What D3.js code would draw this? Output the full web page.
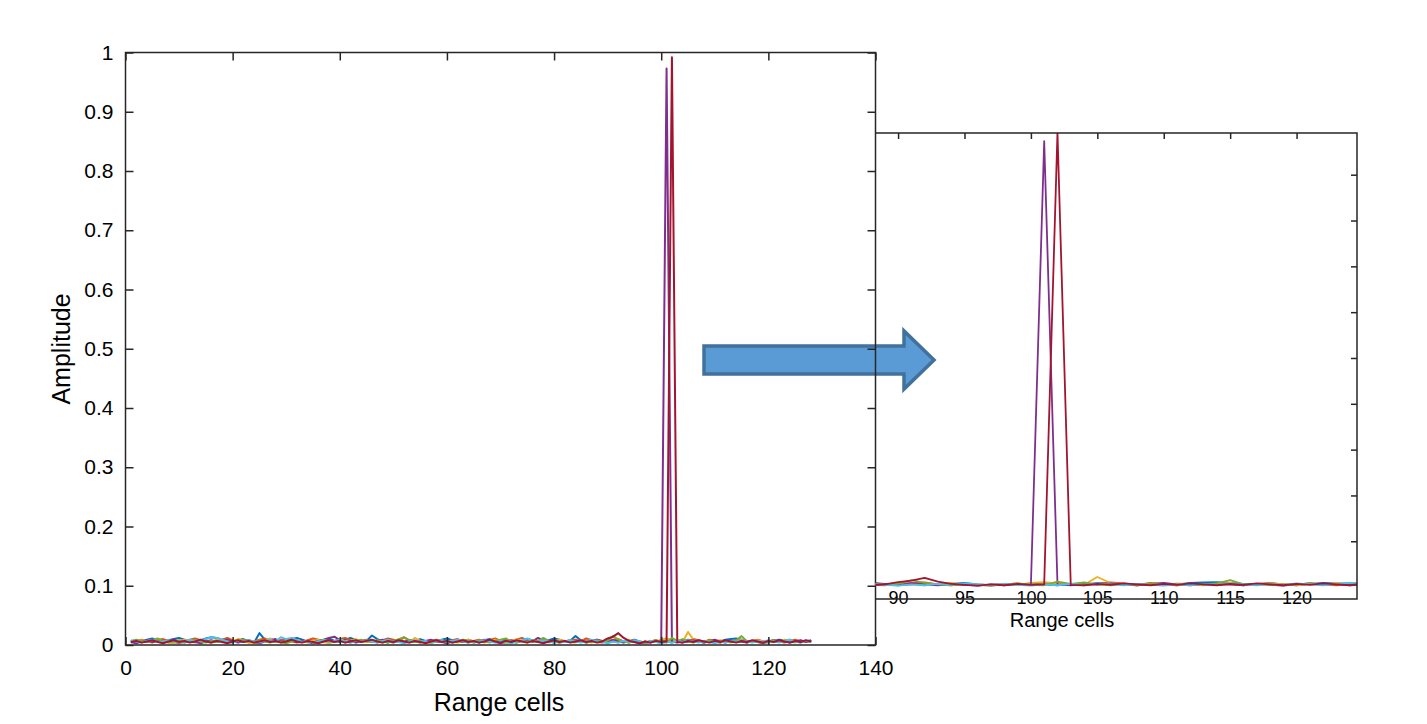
<!DOCTYPE html>
<html>
<head>
<meta charset="utf-8">
<script src="https://cdn.jsdelivr.net/npm/d3@7"></script>
<style>
  body { margin: 0; background: #fff; }
  svg { display: block; font-family: "Liberation Sans", Arial, sans-serif; }
  .tick text { fill: #000; }
</style>
</head>
<body>
<svg id="chart" width="1427" height="724"></svg>
<script>
// range cells run 1..128, one value per cell for each pulse
var blueSeries = [
  0.006,0.008,0.005,0.009,0.011,0.007,0.004,0.008,0.010,0.012,0.009,0.006,0.005,0.008,0.011,0.013,
  0.012,0.009,0.007,0.005,0.008,0.010,0.006,0.004,0.020,0.009,0.007,0.005,0.008,0.006,0.010,0.012,
  0.009,0.005,0.003,0.006,0.008,0.011,0.007,0.005,0.009,0.012,0.008,0.006,0.007,0.016,0.010,0.006,
  0.004,0.007,0.009,0.005,0.008,0.006,0.010,0.007,0.004,0.006,0.009,0.011,0.008,0.005,0.007,0.009,
  0.006,0.004,0.008,0.010,0.007,0.005,0.009,0.006,0.004,0.007,0.010,0.008,0.006,0.005,0.008,0.011,
  0.009,0.006,0.007,0.015,0.008,0.005,0.007,0.009,0.006,0.004,0.006,0.008,0.005,0.007,0.009,0.006,
  0.004,0.007,0.005,0.008,0.006,0.004,0.007,0.005,0.009,0.008,0.006,0.004,0.007,0.005,0.006,0.009,
  0.010,0.011,0.009,0.007,0.005,0.008,0.006,0.004,0.007,0.009,0.008,0.006,0.005,0.007,0.006,0.008
];
var orangeSeries = [
  0.007,0.005,0.009,0.006,0.004,0.008,0.010,0.007,0.005,0.003,0.006,0.009,0.011,0.008,0.006,0.004,
  0.007,0.009,0.012,0.008,0.005,0.007,0.004,0.006,0.009,0.011,0.007,0.005,0.008,0.010,0.006,0.004,
  0.005,0.008,0.011,0.009,0.006,0.004,0.007,0.010,0.012,0.008,0.005,0.007,0.009,0.006,0.004,0.008,
  0.011,0.009,0.006,0.013,0.008,0.005,0.007,0.004,0.006,0.009,0.007,0.005,0.008,0.010,0.006,0.004,
  0.007,0.009,0.005,0.008,0.011,0.007,0.004,0.006,0.009,0.012,0.008,0.005,0.007,0.010,0.006,0.004,
  0.008,0.005,0.007,0.009,0.006,0.011,0.008,0.005,0.004,0.007,0.009,0.010,0.006,0.004,0.007,0.005,
  0.003,0.006,0.008,0.005,0.007,0.009,0.006,0.004,0.007,0.010,0.008,0.005,0.009,0.006,0.004,0.007,
  0.005,0.008,0.006,0.004,0.007,0.009,0.006,0.005,0.008,0.006,0.004,0.007,0.009,0.006,0.005,0.007
];
var yellowSeries = [
  0.004,0.006,0.008,0.005,0.007,0.010,0.006,0.004,0.003,0.007,0.009,0.006,0.004,0.008,0.006,0.005,
  0.009,0.007,0.004,0.006,0.010,0.008,0.005,0.003,0.006,0.008,0.011,0.007,0.004,0.006,0.005,0.008,
  0.006,0.004,0.007,0.009,0.005,0.003,0.006,0.008,0.004,0.007,0.010,0.006,0.005,0.008,0.006,0.004,
  0.007,0.005,0.009,0.006,0.004,0.012,0.007,0.005,0.003,0.006,0.008,0.005,0.007,0.004,0.006,0.009,
  0.005,0.007,0.004,0.006,0.009,0.005,0.003,0.007,0.010,0.006,0.004,0.008,0.005,0.007,0.004,0.006,
  0.009,0.007,0.005,0.004,0.008,0.006,0.004,0.007,0.005,0.008,0.006,0.004,0.007,0.009,0.005,0.006,
  0.004,0.007,0.005,0.009,0.011,0.008,0.006,0.005,0.022,0.009,0.006,0.004,0.007,0.005,0.008,0.006,
  0.004,0.007,0.009,0.006,0.005,0.008,0.006,0.004,0.007,0.005,0.009,0.006,0.004,0.007,0.005,0.006
];
var purpleSeries = [
  0.005,0.003,0.006,0.008,0.005,0.007,0.004,0.006,0.009,0.006,0.004,0.007,0.005,0.003,0.006,0.008,
  0.005,0.007,0.009,0.006,0.004,0.006,0.008,0.005,0.003,0.006,0.008,0.010,0.006,0.004,0.007,0.005,
  0.008,0.006,0.004,0.007,0.009,0.012,0.014,0.008,0.005,0.007,0.004,0.006,0.008,0.005,0.007,0.009,
  0.006,0.004,0.007,0.005,0.008,0.006,0.004,0.007,0.009,0.006,0.005,0.003,0.006,0.008,0.005,0.007,
  0.004,0.006,0.009,0.007,0.005,0.003,0.006,0.008,0.005,0.007,0.010,0.006,0.012,0.008,0.005,0.007,
  0.004,0.006,0.008,0.005,0.007,0.004,0.006,0.009,0.007,0.005,0.008,0.006,0.004,0.007,0.005,0.003,
  0.006,0.004,0.007,0.005,0.973,0.006,0.004,0.007,0.005,0.008,0.006,0.004,0.007,0.009,0.006,0.004,
  0.007,0.005,0.006,0.004,0.007,0.005,0.003,0.006,0.008,0.005,0.007,0.004,0.006,0.008,0.005,0.007
];
var greenSeries = [
  0.006,0.009,0.007,0.005,0.008,0.011,0.007,0.004,0.006,0.008,0.005,0.007,0.009,0.006,0.004,0.007,
  0.005,0.008,0.006,0.004,0.007,0.009,0.006,0.005,0.008,0.006,0.004,0.007,0.005,0.003,0.006,0.008,
  0.005,0.007,0.004,0.006,0.009,0.007,0.005,0.008,0.006,0.004,0.007,0.009,0.006,0.005,0.008,0.006,
  0.004,0.007,0.010,0.013,0.008,0.005,0.007,0.004,0.006,0.008,0.005,0.007,0.004,0.006,0.009,0.007,
  0.005,0.008,0.006,0.004,0.007,0.009,0.011,0.006,0.004,0.007,0.005,0.008,0.006,0.012,0.007,0.005,
  0.004,0.006,0.008,0.005,0.007,0.004,0.006,0.008,0.005,0.007,0.015,0.009,0.006,0.004,0.007,0.005,
  0.003,0.006,0.008,0.005,0.004,0.012,0.007,0.010,0.006,0.004,0.007,0.005,0.008,0.006,0.004,0.007,
  0.005,0.008,0.015,0.006,0.007,0.005,0.004,0.006,0.008,0.005,0.007,0.009,0.006,0.004,0.007,0.005
];
var lightBlueSeries = [
  0.008,0.006,0.004,0.007,0.009,0.006,0.005,0.008,0.006,0.004,0.007,0.009,0.006,0.008,0.010,0.013,
  0.012,0.009,0.006,0.004,0.007,0.005,0.008,0.006,0.004,0.007,0.009,0.006,0.013,0.010,0.012,0.008,
  0.005,0.007,0.004,0.006,0.008,0.005,0.007,0.009,0.006,0.004,0.007,0.005,0.008,0.006,0.004,0.007,
  0.009,0.006,0.005,0.003,0.006,0.008,0.005,0.007,0.004,0.006,0.008,0.005,0.007,0.009,0.006,0.004,
  0.007,0.005,0.008,0.006,0.004,0.007,0.005,0.003,0.006,0.008,0.011,0.007,0.005,0.008,0.006,0.004,
  0.007,0.005,0.008,0.006,0.004,0.007,0.009,0.006,0.005,0.003,0.006,0.004,0.007,0.005,0.008,0.006,
  0.004,0.007,0.005,0.003,0.006,0.004,0.007,0.005,0.008,0.006,0.004,0.007,0.005,0.003,0.006,0.004,
  0.007,0.005,0.008,0.006,0.004,0.007,0.005,0.008,0.006,0.004,0.007,0.009,0.006,0.004,0.007,0.005
];
var redSeries = [
  0.005,0.007,0.004,0.006,0.008,0.005,0.003,0.006,0.008,0.005,0.007,0.004,0.006,0.009,0.006,0.004,
  0.007,0.005,0.003,0.006,0.008,0.005,0.007,0.004,0.006,0.008,0.005,0.007,0.004,0.006,0.009,0.006,
  0.004,0.007,0.005,0.003,0.006,0.008,0.005,0.007,0.004,0.006,0.008,0.005,0.007,0.009,0.006,0.004,
  0.007,0.005,0.008,0.006,0.004,0.007,0.005,0.003,0.006,0.008,0.005,0.007,0.004,0.006,0.008,0.005,
  0.007,0.004,0.006,0.009,0.006,0.004,0.007,0.005,0.008,0.006,0.004,0.007,0.005,0.003,0.006,0.008,
  0.005,0.007,0.004,0.006,0.008,0.005,0.007,0.004,0.006,0.011,0.014,0.020,0.012,0.007,0.005,0.003,
  0.006,0.004,0.007,0.005,0.006,0.992,0.005,0.004,0.007,0.005,0.008,0.006,0.004,0.007,0.005,0.008,
  0.006,0.004,0.007,0.005,0.008,0.006,0.004,0.007,0.005,0.008,0.006,0.004,0.007,0.005,0.008,0.006
];

var seriesList = [blueSeries, orangeSeries, yellowSeries, purpleSeries, greenSeries, lightBlueSeries, redSeries];
var seriesColors = ["#0072BD", "#D95319", "#EDB120", "#7E2F8E", "#77AC30", "#4DBEEE", "#A2142F"];

var mainXTicks = [0, 20, 40, 60, 80, 100, 120, 140];
var mainYTicks = [0, 0.1, 0.2, 0.3, 0.4, 0.5, 0.6, 0.7, 0.8, 0.9, 1];
var insetXTicks = [90, 95, 100, 105, 110, 115, 120];
var insetYTicks = [0.1, 0.2, 0.3, 0.4, 0.5, 0.6, 0.7, 0.8, 0.9];

var svg = d3.select("#chart");

// ---- the arrow sits under everything else
svg.append("path")
  .attr("d", "M704,346 L904,346 L904,331 L934,360 L904,389 L904,374 L704,374 Z")
  .attr("fill", "#5B9BD5")
  .attr("stroke", "#41719C")
  .attr("stroke-width", 3.5)
  .attr("stroke-linejoin", "miter");

// ---- main chart
var main = {left: 125.5, right: 875.5, top: 52.5, bottom: 645};
var x = d3.scaleLinear().domain([0, 140]).range([main.left, main.right]);
var y = d3.scaleLinear().domain([0, 1]).range([main.bottom, main.top]);

var line = d3.line()
  .x(function (d, i) { return x(i + 1); })
  .y(function (d) { return y(d); });

var mainLines = svg.append("g");
seriesList.forEach(function (s, k) {
  mainLines.append("path")
    .datum(s)
    .attr("fill", "none")
    .attr("stroke", seriesColors[k])
    .attr("stroke-width", 2)
    .attr("stroke-linejoin", "round")
    .attr("d", line);
});

function styleAxis(g) {
  g.select(".domain").remove();
  g.selectAll(".tick line").attr("stroke", "#262626").attr("stroke-width", 1.5);
}

svg.append("g")
  .attr("transform", "translate(0," + main.bottom + ")")
  .call(d3.axisBottom(x).tickValues(mainXTicks).tickSizeInner(-8).tickSizeOuter(0).tickPadding(15).tickFormat(d3.format("d")))
  .call(styleAxis)
  .call(function (g) { g.selectAll("text").attr("font-size", 21); });

svg.append("g")
  .attr("transform", "translate(0," + main.top + ")")
  .call(d3.axisTop(x).tickValues(mainXTicks).tickSizeInner(-8).tickSizeOuter(0).tickFormat(""))
  .call(styleAxis);

svg.append("g")
  .attr("transform", "translate(" + main.left + ",0)")
  .call(d3.axisLeft(y).tickValues(mainYTicks).tickSizeInner(-8).tickSizeOuter(0).tickPadding(12).tickFormat(d3.format("~g")))
  .call(styleAxis)
  .call(function (g) { g.selectAll("text").attr("font-size", 21); });

svg.append("g")
  .attr("transform", "translate(" + main.right + ",0)")
  .call(d3.axisRight(y).tickValues(mainYTicks).tickSizeInner(-8).tickSizeOuter(0).tickFormat(""))
  .call(styleAxis);

svg.append("rect")
  .attr("x", main.left).attr("y", main.top)
  .attr("width", main.right - main.left).attr("height", main.bottom - main.top)
  .attr("fill", "none").attr("stroke", "#262626").attr("stroke-width", 1.5);

svg.append("text")
  .attr("x", 499).attr("y", 711)
  .attr("text-anchor", "middle").attr("font-size", 25)
  .text("Range cells");

svg.append("text")
  .attr("transform", "translate(70,349) rotate(-90)")
  .attr("text-anchor", "middle").attr("font-size", 25)
  .text("Amplitude");

// ---- zoomed inset around the two peaks
var inset = {left: 875.5, right: 1357, top: 133, bottom: 599};
var ix = d3.scaleLinear().domain([88.3, 124.55]).range([inset.left, inset.right]);
var iy = d3.scaleLinear().domain([-0.026, 0.991]).range([inset.bottom, inset.top]);

svg.append("defs").append("clipPath").attr("id", "insetClip")
  .append("rect")
  .attr("x", inset.left).attr("y", inset.top)
  .attr("width", inset.right - inset.left).attr("height", inset.bottom - inset.top);

var insetLine = d3.line()
  .x(function (d, i) { return ix(i + 1); })
  .y(function (d) { return iy(d); });

var insetLines = svg.append("g").attr("clip-path", "url(#insetClip)");
seriesList.forEach(function (s, k) {
  insetLines.append("path")
    .datum(s)
    .attr("fill", "none")
    .attr("stroke", seriesColors[k])
    .attr("stroke-width", 1.8)
    .attr("stroke-linejoin", "round")
    .attr("d", insetLine);
});

svg.append("g")
  .attr("transform", "translate(0," + inset.top + ")")
  .call(d3.axisTop(ix).tickValues(insetXTicks).tickSizeInner(-6).tickSizeOuter(0).tickFormat(""))
  .call(styleAxis);

svg.append("g")
  .attr("transform", "translate(" + inset.right + ",0)")
  .call(d3.axisRight(iy).tickValues(insetYTicks).tickSizeInner(-6).tickSizeOuter(0).tickFormat(""))
  .call(styleAxis);

// bottom labels of the inset are struck through by its axis line
svg.append("g")
  .attr("transform", "translate(0," + inset.bottom + ")")
  .call(d3.axisBottom(ix).tickValues(insetXTicks).tickSize(0).tickPadding(0).tickFormat(d3.format("d")))
  .call(styleAxis)
  .call(function (g) {
    g.selectAll("text").attr("font-size", 18).attr("dy", "0.35em").attr("y", -1);
  });

svg.append("path")
  .attr("d", "M" + inset.left + "," + inset.top + "H" + inset.right + "V" + inset.bottom + "H" + inset.left)
  .attr("fill", "none").attr("stroke", "#262626").attr("stroke-width", 1.5);

svg.append("text")
  .attr("x", 1062).attr("y", 627)
  .attr("text-anchor", "middle").attr("font-size", 20)
  .text("Range cells");
</script>
</body>
</html>
